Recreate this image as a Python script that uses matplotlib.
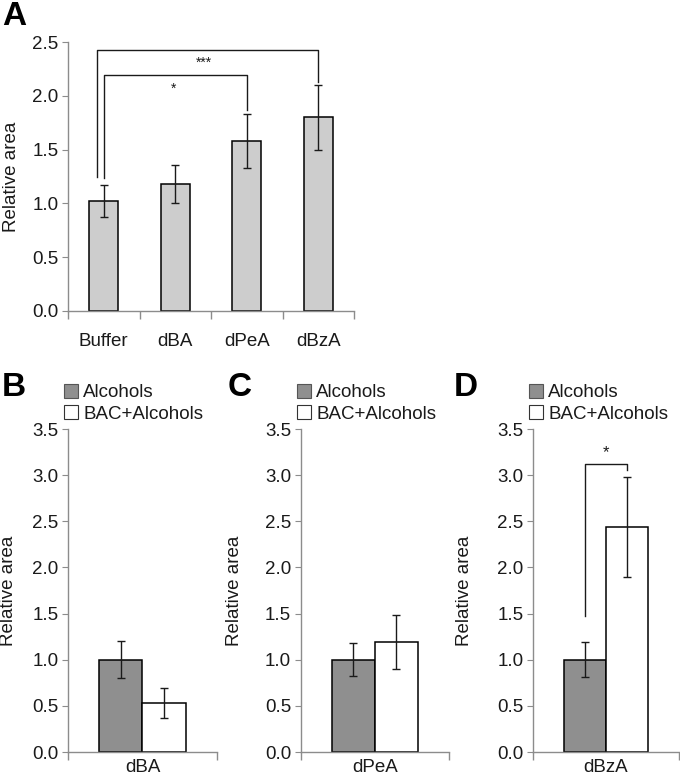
import matplotlib
matplotlib.use("Agg")
import matplotlib.pyplot as plt
from matplotlib.patches import Patch

plt.rcParams["font.family"] = ["Liberation Sans", "DejaVu Sans"]

# Panel A
A_LABELS = ["Buffer", "dBA", "dPeA", "dBzA"]
A_MEAN = [1.02, 1.18, 1.58, 1.80]
A_ERR = [0.15, 0.18, 0.25, 0.30]
# brackets: (left bar, right bar, top, left foot, right foot, text, text x, text y)
A_BRACKETS = [
    (0, 2, 2.19, 1.24, 1.87, "*", 0.97, 2.07),
    (0, 3, 2.43, 1.25, 2.13, "***", 1.40, 2.31),
]
A_BRACKET_SHIFT = [0.0, -0.10]

# Panels B-D
SERIES = ["Alcohols", "BAC+Alcohols"]
PANELS = ["B", "C", "D"]
BD_CATS = ["dBA", "dPeA", "dBzA"]
ALC_MEAN = [1.00, 1.00, 1.00]
ALC_ERR = [0.20, 0.18, 0.19]
BAC_MEAN = [0.53, 1.19, 2.44]
BAC_ERR = [0.16, 0.29, 0.54]
D_BRACKET = (1.47, 3.12, 3.06, "*", 3.24)

SPINE = "#8c8c8c"
TXT = "#1a1a1a"
FS = 13.5

fig = plt.figure(figsize=(6.8, 7.81), dpi=100)


def style(ax, ymax, step, edges):
    for s in ["top", "right"]:
        ax.spines[s].set_visible(False)
    for s in ["left", "bottom"]:
        ax.spines[s].set_color(SPINE)
        ax.spines[s].set_linewidth(1.0)
    ax.set_ylim(0, ymax)
    ax.set_yticks([i * step for i in range(int(round(ymax / step)) + 1)])
    ax.yaxis.set_major_formatter(matplotlib.ticker.FormatStrFormatter("%.1f"))
    ax.tick_params(axis="y", direction="out", length=4, color=SPINE,
                   labelsize=FS, labelcolor=TXT, pad=3)
    ax.set_xticks(edges, minor=True)
    ax.tick_params(axis="x", which="minor", direction="out", length=6,
                   color=SPINE, width=1.0)
    ax.tick_params(axis="x", which="major", length=0, labelsize=FS,
                   labelcolor=TXT)


# ---- Panel A
axA = fig.add_axes([0.1, 0.6018, 0.4206, 0.3444])
xs = list(range(len(A_LABELS)))
axA.bar(xs, A_MEAN, width=0.4, color="#cdcdcd", edgecolor="black",
        linewidth=1.1, zorder=2)
axA.errorbar(xs, A_MEAN, yerr=A_ERR, fmt="none", ecolor="#1a1a1a",
             elinewidth=1.0, capsize=3, capthick=1.0, zorder=3)
axA.set_xlim(-0.5, 3.5)
style(axA, 2.5, 0.5, [i - 0.5 for i in range(len(A_LABELS) + 1)])
axA.set_xticks(xs)
axA.set_xticklabels(A_LABELS)
axA.tick_params(axis="x", which="major", pad=16)
axA.set_ylabel("Relative area", fontsize=FS, color=TXT)
axA.yaxis.set_label_coords(-0.168, 0.5)
for (l, r, top, lf, rf, txt, tx, ty), sh in zip(A_BRACKETS, A_BRACKET_SHIFT):
    axA.plot([l + sh, l + sh, r, r], [lf, top, top, rf], color="#1a1a1a",
             lw=1.0, clip_on=False, zorder=4)
    axA.text(tx, ty, txt, ha="center", va="center", fontsize=10, color=TXT)
fig.text(0.003, 0.999, "A", fontsize=24, fontweight="bold", va="top",
         ha="left", color="black")

# ---- Panels B-D
lefts = [0.1, 0.4426, 0.7838]
widths = [0.219, 0.2176, 0.2147]
label_x = [-0.342, -0.39, -0.41]
letter_x = [0.003, 0.335, 0.668]
w = 0.29
for i, name in enumerate(PANELS):
    ax = fig.add_axes([lefts[i], 0.0371, widths[i], 0.4136])
    ax.bar([-w / 2], [ALC_MEAN[i]], width=w, color="#8f8f8f",
           edgecolor="black", linewidth=1.1, zorder=2)
    ax.bar([w / 2], [BAC_MEAN[i]], width=w, color="white",
           edgecolor="black", linewidth=1.1, zorder=2)
    ax.errorbar([-w / 2, w / 2], [ALC_MEAN[i], BAC_MEAN[i]],
                yerr=[ALC_ERR[i], BAC_ERR[i]], fmt="none", ecolor="#1a1a1a",
                elinewidth=1.0, capsize=3, capthick=1.0, zorder=3)
    ax.set_xlim(-0.5, 0.5)
    style(ax, 3.5, 0.5, [-0.5, 0.5])
    ax.set_xticks([0])
    ax.set_xticklabels([BD_CATS[i]])
    ax.tick_params(axis="x", which="major", pad=5)
    ax.set_ylabel("Relative area", fontsize=FS, color=TXT)
    ax.yaxis.set_label_coords(label_x[i], 0.5)
    handles = [Patch(facecolor="#8f8f8f", edgecolor="#555555", lw=0.8),
               Patch(facecolor="white", edgecolor="#333333", lw=0.8)]
    ax.legend(handles, SERIES, loc="lower left", bbox_to_anchor=(-0.03, 1.02),
              frameon=False, fontsize=FS, handlelength=0.75, handleheight=0.75,
              handletextpad=0.3, labelspacing=0.2, borderaxespad=0,
              borderpad=0, labelcolor=TXT)
    fig.text(letter_x[i], 0.524, name, fontsize=24, fontweight="bold",
             va="top", ha="left", color="black")
    if name == "D":
        lf, top, rf, txt, ty = D_BRACKET
        ax.plot([-w / 2, -w / 2, w / 2, w / 2], [lf, top, top, rf],
                color="#1a1a1a", lw=1.0, zorder=4)
        ax.text(0, ty, txt, ha="center", va="center", fontsize=12, color=TXT)

fig.savefig("out.png", dpi=100)
